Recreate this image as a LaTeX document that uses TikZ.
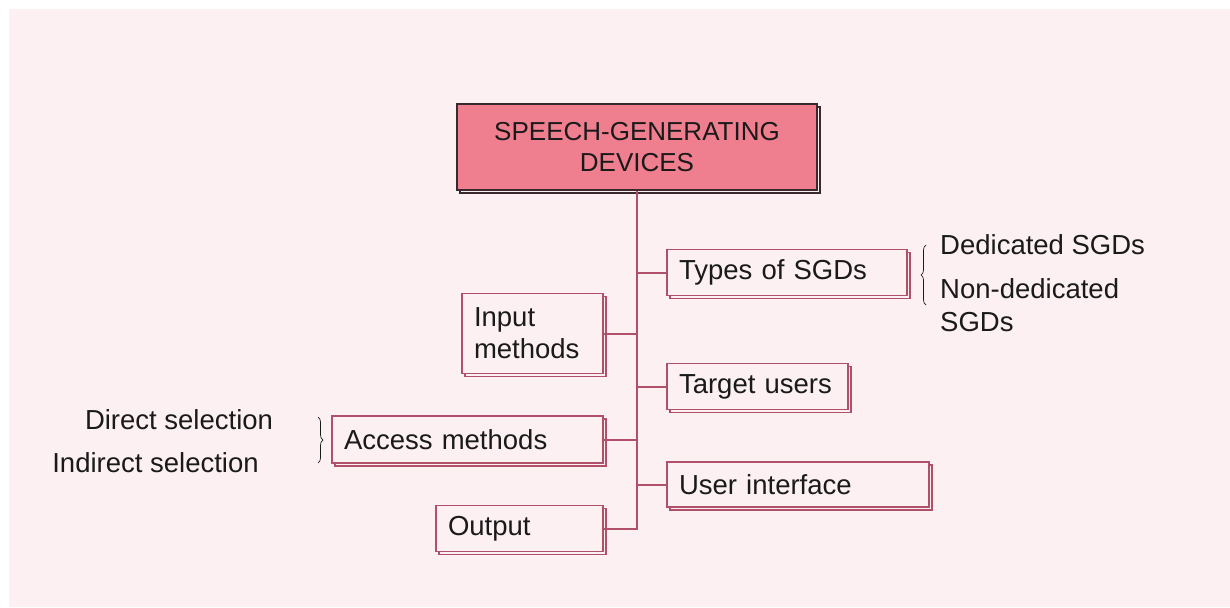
\documentclass[tikz,border=0pt]{standalone}
\usepackage{fontspec}
\setmainfont{Liberation Sans}
\usetikzlibrary{shadows,decorations.pathreplacing}
\definecolor{bgpink}{HTML}{FCF0F2}
\definecolor{mainfill}{HTML}{EF7F8F}
\definecolor{mainline}{HTML}{3A2A30}
\definecolor{mauve}{HTML}{B0506A}
\definecolor{ink}{HTML}{1A1A1A}
\tikzset{
  topic/.style={draw=mauve, line width=1.4pt, fill=bgpink, inner xsep=12pt, inner ysep=0pt,
    text=ink, font=\fontsize{27.5}{32}\selectfont, align=left,
    general shadow={shadow xshift=3pt, shadow yshift=-3pt, fill=bgpink, draw=mauve, line width=1.4pt}},
  rootbox/.style={draw=mainline, line width=1.4pt, fill=mainfill, text=ink, align=center,
    font=\fontsize{26}{31}\selectfont,
    general shadow={shadow xshift=3pt, shadow yshift=-3pt, fill=bgpink, draw=mainline, line width=1.4pt}},
  conn/.style={draw=mauve, line width=2pt},
  bracebar/.style={draw=ink, line width=0.7pt, decorate, decoration={brace, amplitude=5pt}},
  leaf/.style={text=ink, font=\fontsize{27.5}{33}\selectfont, align=left, inner sep=0pt}
}
\begin{document}
\begin{tikzpicture}[x=1pt, y=-1pt]
\useasboundingbox (0,0) rectangle (1230,607);
\fill[white] (0,0) rectangle (1230,607);
\fill[bgpink] (9,9) rectangle (1230,607);

\node[rootbox, minimum width=360pt, minimum height=86pt] (main) at (637,147) {SPEECH-GENERATING\\DEVICES};

\node[topic, minimum width=240pt, minimum height=46pt, text width=216pt] (types) at (787,272.5) {Types of SGDs};
\node[topic, minimum width=141pt, minimum height=80pt, text width=117pt] (input) at (532.5,333.5) {Input\\methods};
\node[topic, minimum width=181pt, minimum height=46pt, text width=157pt] (target) at (757.5,386.5) {Target users};
\node[topic, minimum width=271pt, minimum height=47pt, text width=247pt] (access) at (467.5,439.5) {Access methods};
\node[topic, minimum width=262pt, minimum height=45pt, text width=238pt] (ui) at (798,484.5) {User interface};
\node[topic, minimum width=167pt, minimum height=46pt, text width=143pt] (output) at (519.5,528.5) {Output};

\draw[conn] (main.south) |- (output.east);
\draw[conn] (types.west) -- (types.west -| main.south);
\draw[conn] (input.east) -- (input.east -| main.south);
\draw[conn] (target.west) -- (target.west -| main.south);
\draw[conn] (access.east) -- (access.east -| main.south);
\draw[conn] (ui.west) -- (ui.west -| main.south);

\coordinate (rb1) at (926,305);
\coordinate (rb2) at (926,245);
\draw[bracebar] (rb1) -- (rb2);
\node[leaf, anchor=west] (ded) at (940,245) {Dedicated SGDs};
\node[leaf, anchor=west] (nonded) at (940,305.5) {Non-dedicated\\SGDs};

\coordinate (lb1) at (318,417);
\coordinate (lb2) at (318,463);
\draw[bracebar] (lb1) -- (lb2);
\node[leaf] (direct) at (179,420) {Direct selection};
\node[leaf] (indirect) at (155.5,463) {Indirect selection};
\end{tikzpicture}
\end{document}
